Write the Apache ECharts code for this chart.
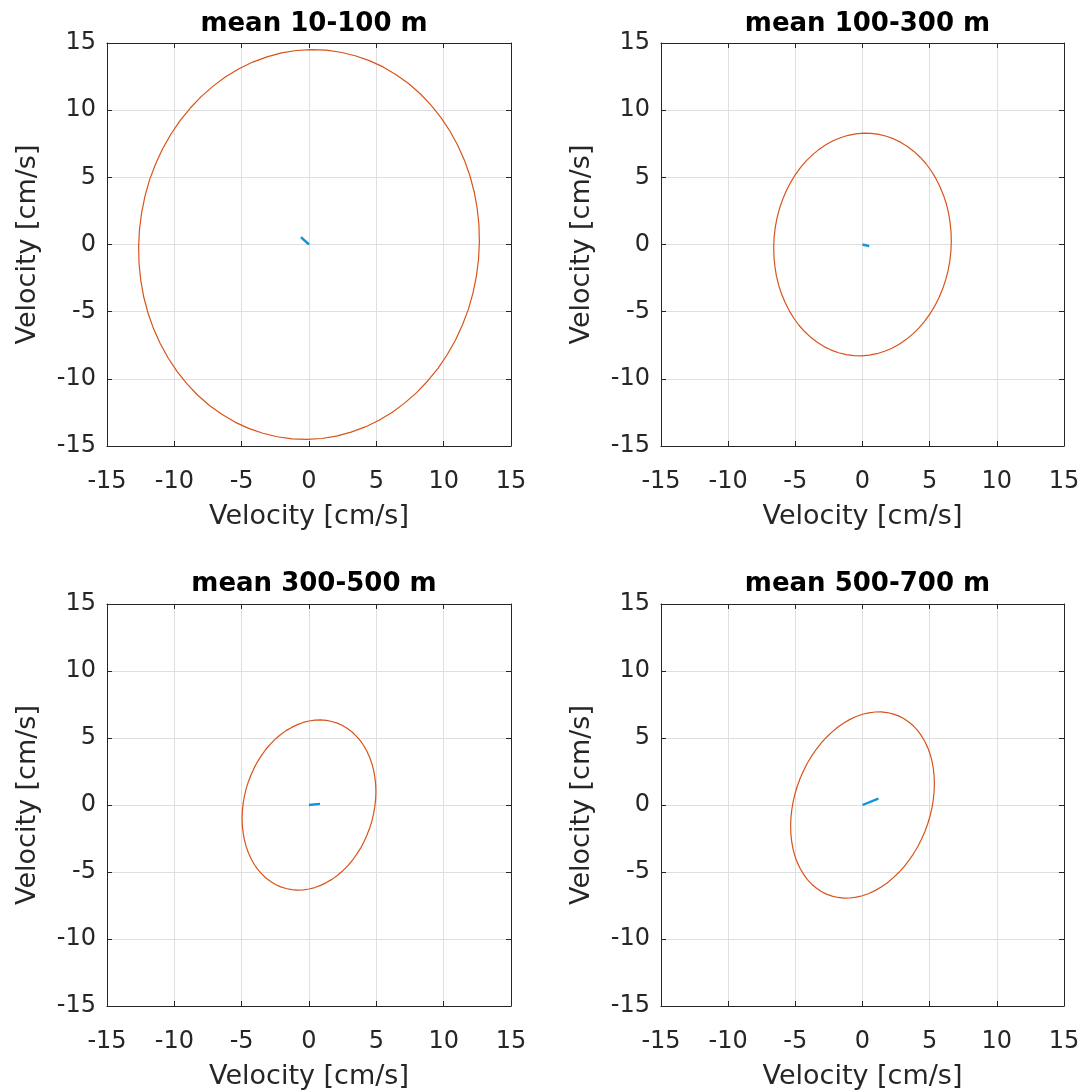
<!DOCTYPE html>
<html><head><meta charset="utf-8">
<script src="https://cdn.jsdelivr.net/npm/echarts@6/dist/echarts.min.js"></script>
<style>html,body{margin:0;padding:0;background:#fff}#c{width:1083px;height:1092px}</style>
</head><body><div id="c"></div>
<script>
// ---- data ----
const panelTitles = ['mean 10-100 m', 'mean 100-300 m', 'mean 300-500 m', 'mean 500-700 m'];
const axisTitle = 'Velocity [cm/s]';
const tickValues = [-15, -10, -5, 0, 5, 10, 15];

const ellipse10to100 = [[12.59,-1.10],[12.65,0.16],[12.62,1.43],[12.49,2.68],[12.27,3.91],[11.95,5.12],[11.54,6.28],[11.04,7.39],[10.46,8.45],[9.80,9.45],[9.06,10.37],[8.26,11.22],[7.39,11.98],[6.47,12.64],[5.50,13.22],[4.48,13.69],[3.43,14.05],[2.36,14.31],[1.27,14.47],[0.16,14.51],[-0.94,14.44],[-2.04,14.26],[-3.12,13.97],[-4.18,13.58],[-5.20,13.08],[-6.19,12.48],[-7.12,11.79],[-8.01,11.01],[-8.83,10.14],[-9.59,9.20],[-10.27,8.19],[-10.88,7.11],[-11.40,5.98],[-11.84,4.81],[-12.18,3.60],[-12.43,2.36],
  [-12.59,1.10],[-12.65,-0.16],[-12.62,-1.43],[-12.49,-2.68],[-12.27,-3.91],[-11.95,-5.12],[-11.54,-6.28],[-11.04,-7.39],[-10.46,-8.45],[-9.80,-9.45],[-9.06,-10.37],[-8.26,-11.22],[-7.39,-11.98],[-6.47,-12.64],[-5.50,-13.22],[-4.48,-13.69],[-3.43,-14.05],[-2.36,-14.31],[-1.27,-14.47],[-0.16,-14.51],[0.94,-14.44],[2.04,-14.26],[3.12,-13.97],[4.18,-13.58],[5.20,-13.08],[6.19,-12.48],[7.12,-11.79],[8.01,-11.01],[8.83,-10.14],[9.59,-9.20],[10.27,-8.19],[10.88,-7.11],[11.40,-5.98],[11.84,-4.81],[12.18,-3.60],[12.43,-2.36],[12.59,-1.10]];
const ellipse100to300 = [[6.58,-0.52],[6.61,0.21],[6.59,0.93],[6.52,1.64],[6.41,2.34],[6.24,3.03],[6.02,3.69],[5.76,4.32],[5.46,4.92],[5.11,5.49],[4.73,6.01],[4.31,6.48],[3.85,6.91],[3.37,7.28],[2.86,7.60],[2.33,7.86],[1.78,8.06],[1.22,8.20],[0.65,8.27],[0.08,8.29],[-0.50,8.24],[-1.07,8.13],[-1.64,7.95],[-2.19,7.72],[-2.73,7.42],[-3.24,7.08],[-3.73,6.67],[-4.19,6.22],[-4.62,5.72],[-5.02,5.17],[-5.37,4.59],[-5.69,3.97],[-5.96,3.32],[-6.19,2.64],[-6.37,1.95],[-6.50,1.24],
  [-6.58,0.52],[-6.61,-0.21],[-6.59,-0.93],[-6.52,-1.64],[-6.41,-2.34],[-6.24,-3.03],[-6.02,-3.69],[-5.76,-4.32],[-5.46,-4.92],[-5.11,-5.49],[-4.73,-6.01],[-4.31,-6.48],[-3.85,-6.91],[-3.37,-7.28],[-2.86,-7.60],[-2.33,-7.86],[-1.78,-8.06],[-1.22,-8.20],[-0.65,-8.27],[-0.08,-8.29],[0.50,-8.24],[1.07,-8.13],[1.64,-7.95],[2.19,-7.72],[2.73,-7.42],[3.24,-7.08],[3.73,-6.67],[4.19,-6.22],[4.62,-5.72],[5.02,-5.17],[5.37,-4.59],[5.69,-3.97],[5.96,-3.32],[6.19,-2.64],[6.37,-1.95],[6.50,-1.24],[6.58,-0.52]];
const ellipse300to500 = [[4.97,1.01],[4.95,1.55],[4.89,2.08],[4.80,2.59],[4.67,3.09],[4.50,3.56],[4.30,4.01],[4.07,4.42],[3.81,4.80],[3.51,5.14],[3.20,5.45],[2.85,5.71],[2.49,5.93],[2.10,6.11],[1.70,6.23],[1.29,6.31],[0.86,6.35],[0.43,6.33],[0,6.27],[-0.43,6.16],[-0.86,6.00],[-1.29,5.79],[-1.70,5.55],[-2.10,5.26],[-2.49,4.93],[-2.85,4.56],[-3.20,4.16],[-3.51,3.72],[-3.81,3.26],[-4.07,2.77],[-4.30,2.26],[-4.50,1.74],[-4.67,1.20],[-4.80,0.65],[-4.89,0.10],[-4.95,-0.46],
  [-4.97,-1.01],[-4.95,-1.55],[-4.89,-2.08],[-4.80,-2.59],[-4.67,-3.09],[-4.50,-3.56],[-4.30,-4.01],[-4.07,-4.42],[-3.81,-4.80],[-3.51,-5.14],[-3.20,-5.45],[-2.85,-5.71],[-2.49,-5.93],[-2.10,-6.11],[-1.70,-6.23],[-1.29,-6.31],[-0.86,-6.35],[-0.43,-6.33],[0,-6.27],[0.43,-6.16],[0.86,-6.00],[1.29,-5.79],[1.70,-5.55],[2.10,-5.26],[2.49,-4.93],[2.85,-4.56],[3.20,-4.16],[3.51,-3.72],[3.81,-3.26],[4.07,-2.77],[4.30,-2.26],[4.50,-1.74],[4.67,-1.20],[4.80,-0.65],[4.89,-0.10],[4.95,0.46],[4.97,1.01]];
const ellipse500to700 = [[5.35,1.59],[5.33,2.17],[5.27,2.74],[5.17,3.29],[5.03,3.81],[4.85,4.30],[4.63,4.76],[4.38,5.18],[4.10,5.57],[3.78,5.91],[3.44,6.20],[3.07,6.45],[2.68,6.65],[2.26,6.80],[1.83,6.90],[1.39,6.95],[0.93,6.94],[0.47,6.88],[0,6.77],[-0.47,6.60],[-0.93,6.39],[-1.39,6.12],[-1.83,5.82],[-2.26,5.46],[-2.68,5.06],[-3.07,4.63],[-3.44,4.16],[-3.78,3.66],[-4.10,3.13],[-4.38,2.58],[-4.63,2.01],[-4.85,1.42],[-5.03,0.82],[-5.17,0.22],[-5.27,-0.39],[-5.33,-0.99],
  [-5.35,-1.59],[-5.33,-2.17],[-5.27,-2.74],[-5.17,-3.29],[-5.03,-3.81],[-4.85,-4.30],[-4.63,-4.76],[-4.38,-5.18],[-4.10,-5.57],[-3.78,-5.91],[-3.44,-6.20],[-3.07,-6.45],[-2.68,-6.65],[-2.26,-6.80],[-1.83,-6.90],[-1.39,-6.95],[-0.93,-6.94],[-0.47,-6.88],[0,-6.77],[0.47,-6.60],[0.93,-6.39],[1.39,-6.12],[1.83,-5.82],[2.26,-5.46],[2.68,-5.06],[3.07,-4.63],[3.44,-4.16],[3.78,-3.66],[4.10,-3.13],[4.38,-2.58],[4.63,-2.01],[4.85,-1.42],[5.03,-0.82],[5.17,-0.22],[5.27,0.39],[5.33,0.99],[5.35,1.59]];

const meanVector10to100 = [[0,0],[-0.60,0.55]];
const meanVector100to300 = [[0,0],[0.50,-0.12]];
const meanVector300to500 = [[0,0],[0.82,0.08]];
const meanVector500to700 = [[0,0],[1.18,0.47]];

const ellipses = [ellipse10to100, ellipse100to300, ellipse300to500, ellipse500to700];
const meanVectors = [meanVector10to100, meanVector100to300, meanVector300to500, meanVector500to700];

// ---- layout / style ----
const FONT = 'DejaVu Sans';
const INK = '#262626';
const grids = [
  {left:107, top:43, width:404, height:403},
  {left:661, top:43, width:403, height:403},
  {left:107, top:604, width:404, height:402},
  {left:661, top:604, width:403, height:402}
];
const titleTops = [6, 6, 566, 566];

const axMin = tickValues[0], axMax = tickValues[tickValues.length-1], axStep = tickValues[1]-tickValues[0];

const xAxis = [], yAxis = [], series = [], title = [];
grids.forEach((g, i) => {
  const base = {gridIndex:i, type:'value', min:axMin, max:axMax, interval:axStep,
    axisLine:{show:true, onZero:false, lineStyle:{color:INK, width:1}},
    axisTick:{show:true, inside:true, length:5, lineStyle:{color:INK, width:1}}};
  xAxis.push(Object.assign({}, base, {position:'bottom',
    axisLabel:{show:true, fontFamily:FONT, fontSize:24, color:INK, margin:24},
    splitLine:{show:true, lineStyle:{color:'#DFDFDF', width:1}},
    name:axisTitle, nameLocation:'middle', nameGap:57,
    nameTextStyle:{fontFamily:FONT, fontSize:27, color:INK}}));
  xAxis.push(Object.assign({}, base, {position:'top', axisLabel:{show:false}, splitLine:{show:false}}));
  yAxis.push(Object.assign({}, base, {position:'left',
    axisLabel:{show:true, fontFamily:FONT, fontSize:24, color:INK, margin:11},
    splitLine:{show:true, lineStyle:{color:'#DFDFDF', width:1}},
    name:axisTitle, nameLocation:'middle', nameGap:66,
    nameTextStyle:{fontFamily:FONT, fontSize:27, color:INK}}));
  yAxis.push(Object.assign({}, base, {position:'right', axisLabel:{show:false}, splitLine:{show:false}}));
  title.push({text:panelTitles[i], left:g.left + g.width/2, top:titleTops[i], textAlign:'center',
    textStyle:{fontFamily:FONT, fontSize:26, fontWeight:'bold', color:'#000'}});
  series.push({type:'line', xAxisIndex:2*i, yAxisIndex:2*i, data:ellipses[i], smooth:false,
    symbol:'none', lineStyle:{color:'#D95319', width:1.2, join:'round'}, z:2});
  series.push({type:'line', xAxisIndex:2*i, yAxisIndex:2*i, data:meanVectors[i],
    symbol:'none', lineStyle:{color:'#0D95DD', width:2.4}, z:3});
});

const chart = echarts.init(document.getElementById('c'), null, {renderer:'canvas'});
chart.setOption({animation:false, backgroundColor:'#fff', title, grid:grids, xAxis, yAxis, series});
</script></body></html>
